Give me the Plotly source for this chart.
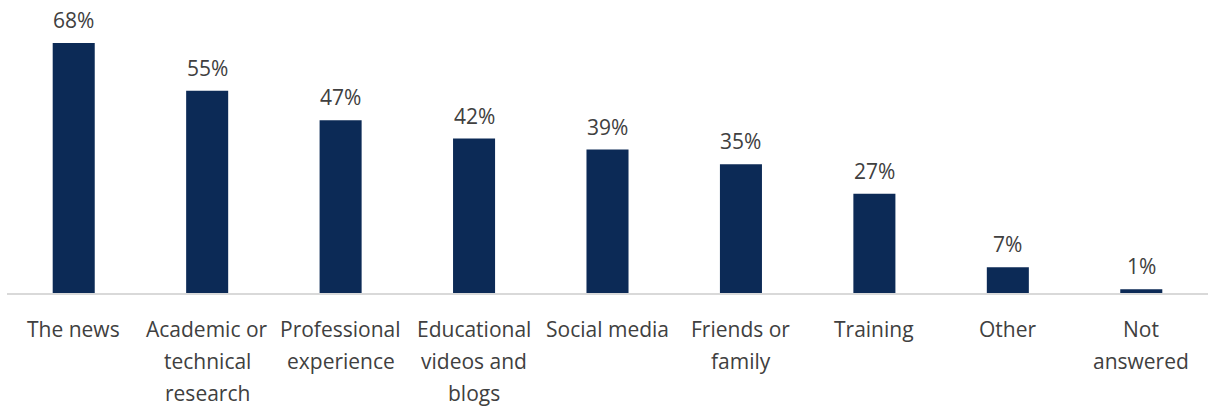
import plotly.graph_objects as go

categories = ["The news", "Academic or<br>technical<br>research", "Professional<br>experience",
              "Educational<br>videos and<br>blogs", "Social media", "Friends or<br>family",
              "Training", "Other", "Not<br>answered"]
values = [68, 55, 47, 42, 39, 35, 27, 7, 1]
labels = [f"{v}%" for v in values]

BAR = "#0C2A56"
TEXT = "#404040"
FONT = "Open Sans"

fig = go.Figure(go.Bar(x=categories, y=values, marker=dict(color=BAR, line=dict(width=0)),
                       width=0.315, hoverinfo="skip"))

# value labels above each bar
for c, v, t in zip(categories, values, labels):
    fig.add_annotation(x=c, y=v, text=t, showarrow=False, yanchor="bottom", yshift=7,
                       font=dict(family=FONT, size=21, color=TEXT))

# category labels, one annotation per line for wider line spacing
for c in categories:
    for i, line in enumerate(c.split("<br>")):
        fig.add_annotation(x=c, y=0, text=line, showarrow=False, yanchor="middle",
                           yshift=-36 - 32 * i, font=dict(family=FONT, size=21, color=TEXT))

fig.update_layout(
    width=1208, height=410, margin=dict(l=7, r=0, t=0, b=117),
    paper_bgcolor="white", plot_bgcolor="white", showlegend=False,
    xaxis=dict(showline=True, linecolor="#D9D9D9", linewidth=2, showticklabels=False,
               ticks="", showgrid=False, fixedrange=True),
    yaxis=dict(range=[0, 79.7], visible=False, showgrid=False, fixedrange=True),
)

fig.write_html("out.html")
